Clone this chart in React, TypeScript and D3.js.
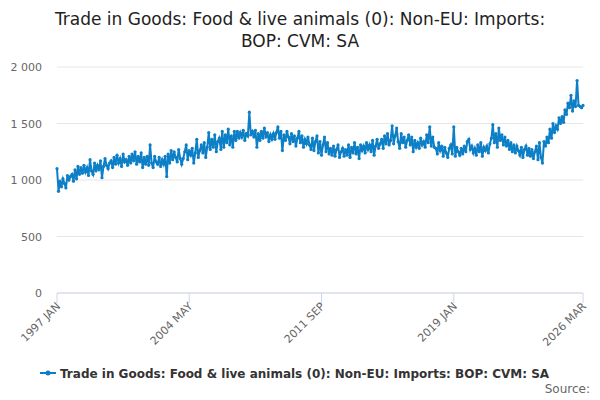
import React, { useEffect, useRef } from 'react';
import * as d3 from 'd3';

const title = ['Trade in Goods: Food & live animals (0): Non-EU: Imports:', 'BOP: CVM: SA'];
const seriesName = 'Trade in Goods: Food & live animals (0): Non-EU: Imports: BOP: CVM: SA';
const startYear = 1997;
const tickLabels = ['1997 JAN', '2004 MAY', '2011 SEP', '2019 JAN', '2026 MAR'];
const tickMonths = [0, 88, 176, 264, 350];
const yTicks = [0, 500, 1000, 1500, 2000];

// monthly values, one row per year
const values: number[] = [
  /* 1997 */ 1100, 900, 990, 940, 1010, 970, 930, 1040, 1000, 1030, 1050, 990,
  /* 1998 */ 1090, 1010, 1120, 1050, 1110, 1060, 1130, 1070, 1110, 1040, 1180, 1080,
  /* 1999 */ 1050, 1150, 1080, 1130, 1090, 1170, 1020, 1120, 1190, 1130, 1100, 1150,
  /* 2000 */ 1170, 1110, 1200, 1140, 1220, 1150, 1190, 1120, 1230, 1160, 1180, 1130,
  /* 2001 */ 1210, 1150, 1230, 1170, 1250, 1140, 1210, 1160, 1240, 1110, 1200, 1140,
  /* 2002 */ 1210, 1130, 1310, 1150, 1110, 1210, 1160, 1140, 1200, 1120, 1180, 1140,
  /* 2003 */ 1210, 1030, 1230, 1150, 1260, 1180, 1250, 1200, 1160, 1270, 1190, 1140,
  /* 2004 */ 1190, 1250, 1310, 1180, 1260, 1220, 1280, 1150, 1240, 1360, 1200, 1260,
  /* 2005 */ 1310, 1240, 1330, 1200, 1290, 1420, 1270, 1360, 1290, 1400, 1250, 1340,
  /* 2006 */ 1370, 1270, 1430, 1290, 1400, 1330, 1450, 1310, 1390, 1290, 1430, 1350,
  /* 2007 */ 1430, 1370, 1420, 1380, 1440, 1350, 1410, 1390, 1600, 1400, 1430, 1380,
  /* 2008 */ 1440, 1290, 1410, 1350, 1430, 1370, 1460, 1380, 1420, 1340, 1400, 1360,
  /* 2009 */ 1410, 1360, 1420, 1470, 1370, 1430, 1260, 1400, 1350, 1430, 1380, 1320,
  /* 2010 */ 1410, 1340, 1390, 1300, 1370, 1430, 1330, 1390, 1290, 1360, 1320, 1380,
  /* 2011 */ 1310, 1270, 1370, 1260, 1340, 1390, 1240, 1340, 1220, 1310, 1380, 1250,
  /* 2012 */ 1330, 1230, 1280, 1220, 1300, 1210, 1270, 1310, 1200, 1250, 1280, 1210,
  /* 2013 */ 1270, 1220, 1310, 1200, 1290, 1240, 1330, 1230, 1290, 1190, 1310, 1260,
  /* 2014 */ 1300, 1240, 1330, 1270, 1310, 1250, 1350, 1220, 1300, 1360, 1280, 1320,
  /* 2015 */ 1360, 1280, 1390, 1320, 1410, 1310, 1350, 1480, 1320, 1390, 1460, 1340,
  /* 2016 */ 1280, 1410, 1330, 1380, 1290, 1350, 1400, 1310, 1380, 1250, 1350, 1290,
  /* 2017 */ 1330, 1280, 1370, 1310, 1340, 1290, 1400, 1330, 1470, 1300, 1380, 1290,
  /* 2018 */ 1280, 1230, 1330, 1260, 1300, 1210, 1290, 1240, 1200, 1280, 1310, 1230,
  /* 2019 */ 1470, 1210, 1290, 1250, 1220, 1280, 1230, 1300, 1250, 1340, 1360, 1270,
  /* 2020 */ 1300, 1240, 1280, 1220, 1310, 1250, 1330, 1210, 1290, 1260, 1300, 1240,
  /* 2021 */ 1320, 1370, 1490, 1330, 1410, 1290, 1460, 1350, 1400, 1310, 1380, 1300,
  /* 2022 */ 1350, 1270, 1330, 1250, 1310, 1240, 1300, 1260, 1220, 1290, 1200, 1270,
  /* 2023 */ 1300, 1220, 1280, 1210, 1270, 1190, 1250, 1300, 1180, 1330, 1200, 1150,
  /* 2024 */ 1340, 1300, 1380, 1330, 1450, 1370, 1500, 1420, 1480, 1450, 1550, 1500,
  /* 2025 */ 1560, 1510, 1620, 1580, 1680, 1640, 1750, 1610, 1700, 1650, 1880, 1660,
  /* 2026 */ 1650, 1640, 1660,
];

const App: React.FC = () => {
  const svgRef = useRef<SVGSVGElement>(null);

  useEffect(() => {
    if (!svgRef.current) return;
    const svg = d3.select(svgRef.current);
    svg.selectAll('*').remove();

    const width = 600;
    const height = 400;
    const margin = { top: 67, right: 17, bottom: 107, left: 57 };
    const w = width - margin.left - margin.right;
    const h = height - margin.top - margin.bottom;
    const font = 'DejaVu Sans, sans-serif';

    const dates = values.map((_, i) => new Date(startYear, i, 1));
    const x = d3.scaleTime()
      .domain([new Date(startYear, 0, 1), new Date(startYear, tickMonths[tickMonths.length - 1], 1)])
      .range([0, w]);
    const y = d3.scaleLinear().domain([0, 2000]).range([h, 0]);

    svg.append('g').attr('font-family', font).attr('font-size', 17).attr('fill', '#222')
      .selectAll('text').data(title).enter().append('text')
      .attr('x', width / 2).attr('y', (_, i) => 25 + i * 22)
      .attr('text-anchor', 'middle').text(d => d);

    const g = svg.append('g').attr('transform', `translate(${margin.left},${margin.top})`);

    g.selectAll('.grid').data(yTicks).enter().append('line')
      .attr('x1', 0).attr('x2', w).attr('y1', d => y(d)).attr('y2', d => y(d))
      .attr('stroke', '#e6e6e6');

    g.selectAll('.yl').data(yTicks).enter().append('text')
      .attr('x', -15).attr('y', d => y(d) + 4).attr('text-anchor', 'end')
      .attr('font-family', font).attr('font-size', 11).attr('fill', '#666')
      .text(d => d3.format(',')(d).replace(',', ' '));

    g.append('line').attr('x1', 0).attr('x2', w).attr('y1', h).attr('y2', h).attr('stroke', '#ccd6eb');

    tickMonths.forEach((m, k) => {
      const tx = x(new Date(startYear, m, 1));
      g.append('line').attr('x1', tx).attr('x2', tx).attr('y1', h).attr('y2', h + 10).attr('stroke', '#ccd6eb');
      g.append('text').attr('transform', `translate(${tx + 4},${h + 14}) rotate(-45)`)
        .attr('text-anchor', 'end').attr('font-family', font).attr('font-size', 11).attr('fill', '#666')
        .text(tickLabels[k]);
    });

    const line = d3.line<number>().x((_, i) => x(dates[i])).y(d => y(d));
    g.append('path').datum(values).attr('d', line).attr('fill', 'none')
      .attr('stroke', '#0c7fc6').attr('stroke-width', 2);
    g.selectAll('.pt').data(values).enter().append('circle')
      .attr('cx', (_, i) => x(dates[i])).attr('cy', d => y(d)).attr('r', 1.6).attr('fill', '#0c7fc6');

    const leg = svg.append('g').attr('transform', 'translate(40,373)');
    leg.append('line').attr('x1', 0).attr('x2', 16).attr('stroke', '#0c7fc6').attr('stroke-width', 2);
    leg.append('circle').attr('cx', 8).attr('r', 2.5).attr('fill', '#0c7fc6');
    leg.append('text').attr('x', 20).attr('y', 5).attr('font-family', font).attr('font-size', 12)
      .attr('font-weight', 'bold').attr('fill', '#333').text(seriesName);
    svg.append('text').attr('x', 590).attr('y', 393).attr('text-anchor', 'end')
      .attr('font-family', font).attr('font-size', 12).attr('fill', '#666').text('Source:');
  }, []);

  return <svg ref={svgRef} width={600} height={400} style={{ position: 'absolute', left: 0, top: 0 }} />;
};

export default App;
